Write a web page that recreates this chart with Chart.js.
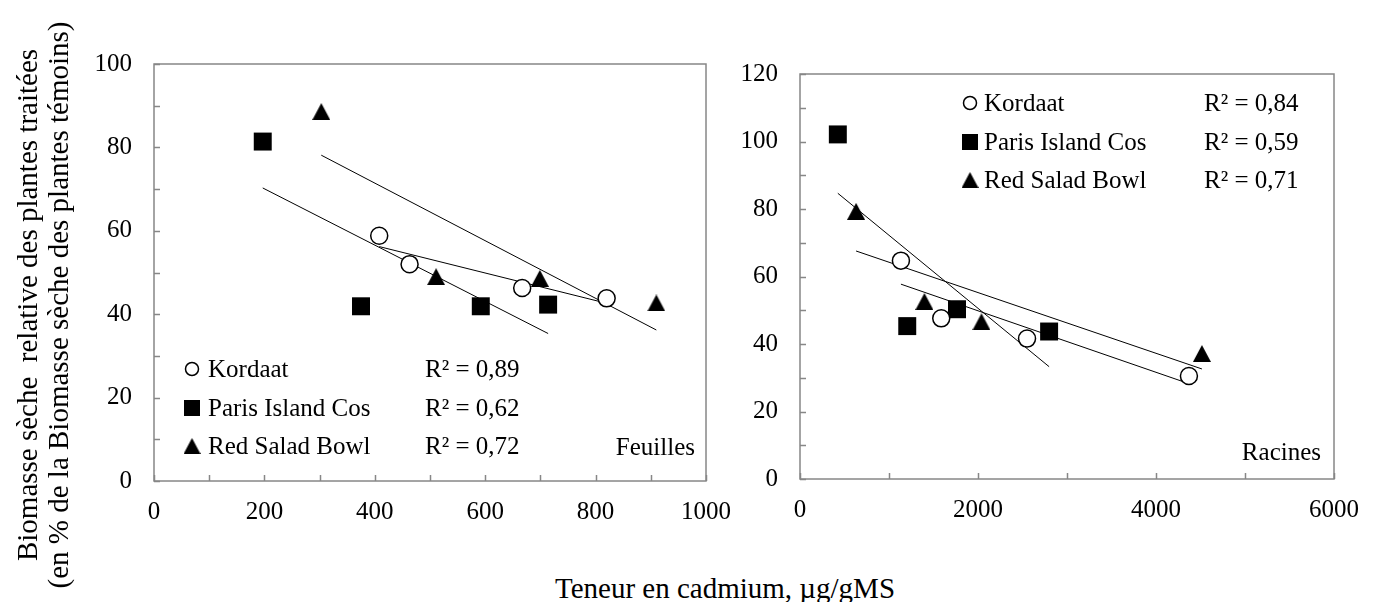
<!DOCTYPE html>
<html>
<head>
<meta charset="utf-8">
<script src="https://cdn.jsdelivr.net/npm/chart.js@4.4.1/dist/chart.umd.min.js"></script>
<style>
  body { margin: 0; background: #fff; }
  #wrap { position: relative; width: 1375px; height: 602px; overflow: hidden; font-family: 'Liberation Serif', 'Times New Roman', serif; color: #000; }
  canvas { position: absolute; top: 0; }
  #leaves { left: 0; }
  #roots { left: 720px; }
  #ytitle { position: absolute; left: -257px; top: 274px; width: 600px; height: 62px; line-height: 31px; font-size: 29px; text-align: center; white-space: pre; transform: rotate(-90deg); }
  #xtitle { position: absolute; left: 425px; top: 573px; width: 600px; line-height: 30px; font-size: 29px; text-align: center; }
</style>
</head>
<body>
<div id="wrap">
  <canvas id="leaves" width="747" height="531"></canvas>
  <canvas id="roots" width="655" height="529"></canvas>
  <div id="ytitle">Biomasse sèche  relative des plantes traitées
(en % de la Biomasse sèche des plantes témoins)</div>
  <div id="xtitle">Teneur en cadmium, µg/gMS</div>
</div>
<script>
// data (Cd in µg/gMS, biomass in % of control)
const varieties = ['Kordaat', 'Paris Island Cos', 'Red Salad Bowl'];

const leafCdKordaat = [408, 463, 667, 820];
const leafBioKordaat = [58.8, 52.0, 46.3, 43.8];
const leafCdParis = [197, 375, 592, 714];
const leafBioParis = [81.4, 41.9, 41.9, 42.3];
const leafCdRed = [303, 511, 699, 910];
const leafBioRed = [88.6, 49.0, 48.6, 42.7];
const leafR2 = ['R² = 0,89', 'R² = 0,62', 'R² = 0,72'];

const rootCdKordaat = [1134, 1587, 2551, 4370];
const rootBioKordaat = [64.7, 47.6, 41.6, 30.5];
const rootCdParis = [425, 1205, 1764, 2799];
const rootBioParis = [102.1, 45.3, 50.3, 43.7];
const rootCdRed = [630, 1398, 2039, 4516];
const rootBioRed = [79.3, 52.6, 46.6, 37.2];
const rootR2 = ['R² = 0,84', 'R² = 0,59', 'R² = 0,71'];

const FONT = "'Liberation Serif', 'Times New Roman', serif";

function pts(xs, ys) {
  return xs.map((x, i) => ({ x: x, y: ys[i] }));
}

// least squares line over the data range, like Excel's linear trendline
function trend(xs, ys) {
  const n = xs.length;
  const mx = xs.reduce((a, b) => a + b) / n;
  const my = ys.reduce((a, b) => a + b) / n;
  let sxy = 0, sxx = 0;
  xs.forEach((x, i) => { sxy += (x - mx) * (ys[i] - my); sxx += (x - mx) * (x - mx); });
  const b = sxy / sxx;
  const lo = Math.min(...xs), hi = Math.max(...xs);
  return [{ x: lo, y: my + b * (lo - mx) }, { x: hi, y: my + b * (hi - mx) }];
}

function triangle(w, h) {
  const c = document.createElement('canvas');
  c.width = w; c.height = h;
  const g = c.getContext('2d');
  g.fillStyle = '#000';
  g.beginPath();
  g.moveTo(w / 2, 0);
  g.lineTo(w, h);
  g.lineTo(0, h);
  g.closePath();
  g.fill();
  return c;
}
const triMark = triangle(18, 17);
const triLegend = triangle(17, 16);

// plot frame + inward tick marks
const frame = {
  id: 'frame',
  beforeDatasetsDraw(chart) {
    const { ctx, chartArea: a, scales: { x, y } } = chart;
    ctx.save();
    ctx.strokeStyle = '#878787';
    ctx.lineWidth = 1.5;
    ctx.beginPath();
    x.ticks.forEach(t => {
      const px = Math.round(x.getPixelForValue(t.value)) + 0.5;
      ctx.moveTo(px, a.bottom);
      ctx.lineTo(px, a.bottom - 6);
    });
    y.ticks.forEach(t => {
      const py = Math.round(y.getPixelForValue(t.value)) + 0.5;
      ctx.moveTo(a.left, py);
      ctx.lineTo(a.left + 6, py);
    });
    ctx.stroke();
    ctx.strokeRect(a.left, a.top, a.width, a.height);
    ctx.restore();
  }
};

// legend written inside the plot, with the R² values and panel name
const panelText = {
  id: 'panelText',
  afterDraw(chart, args, o) {
    const ctx = chart.ctx;
    ctx.save();
    ctx.font = '25px ' + FONT;
    ctx.fillStyle = '#000';
    ctx.textBaseline = 'alphabetic';
    varieties.forEach((name, i) => {
      const y = o.rowY[i];
      const cy = y - 8;
      if (i === 0) {
        ctx.beginPath();
        ctx.lineWidth = 1.5;
        ctx.strokeStyle = '#000';
        ctx.arc(o.markX, cy, 6.5, 0, Math.PI * 2);
        ctx.stroke();
      } else if (i === 1) {
        ctx.fillRect(o.markX - 8, cy - 8, 16, 16);
      } else {
        ctx.drawImage(triLegend, o.markX - 8.5, cy - 8);
      }
      ctx.textAlign = 'left';
      ctx.fillText(name, o.textX, y);
      ctx.fillText(o.r2[i], o.r2X, y);
    });
    ctx.textAlign = 'right';
    ctx.fillText(o.note, o.noteX, o.noteY);
    ctx.restore();
  }
};

function makeChart(id, series, xMax, xStep, xLabelStep, yMax, pad, text) {
  const datasets = [];
  series.forEach(s => {
    datasets.push({
      data: trend(s.x, s.y),
      showLine: true,
      borderColor: '#000',
      borderWidth: 1,
      pointRadius: 0,
      order: 2
    });
  });
  datasets.push({
    label: varieties[0], data: pts(series[0].x, series[0].y), order: 1,
    pointStyle: 'circle', pointRadius: 8.5, backgroundColor: '#fff', borderColor: '#000', borderWidth: 1.5
  });
  datasets.push({
    label: varieties[1], data: pts(series[1].x, series[1].y), order: 1,
    pointStyle: 'rect', pointRadius: 12.7, backgroundColor: '#000', borderColor: '#000', borderWidth: 0
  });
  datasets.push({
    label: varieties[2], data: pts(series[2].x, series[2].y), order: 1,
    pointStyle: triMark, pointRadius: 9, backgroundColor: '#000', borderWidth: 0
  });

  return new Chart(document.getElementById(id), {
    type: 'scatter',
    data: { datasets: datasets },
    options: {
      responsive: false,
      animation: false,
      layout: { padding: pad },
      plugins: { legend: { display: false }, tooltip: { enabled: false }, panelText: text },
      scales: {
        x: {
          type: 'linear', min: 0, max: xMax,
          grid: { display: false, drawTicks: false },
          border: { display: false },
          afterFit: s => { s.height = 50; },
          ticks: {
            stepSize: xStep, autoSkip: false, maxRotation: 0, padding: 16,
            color: '#000', font: { family: FONT, size: 25 },
            callback: v => (v % xLabelStep === 0 ? String(v) : '')
          }
        },
        y: {
          min: 0, max: yMax,
          grid: { display: false, drawTicks: false },
          border: { display: false },
          afterFit: s => { s.width = pad.yw; },
          ticks: {
            stepSize: 10, autoSkip: false, padding: 22,
            color: '#000', font: { family: FONT, size: 25 },
            callback: v => (v % 20 === 0 ? String(v) : '')
          }
        }
      }
    },
    plugins: [frame, panelText]
  });
}

makeChart('leaves', [
  { x: leafCdKordaat, y: leafBioKordaat },
  { x: leafCdParis, y: leafBioParis },
  { x: leafCdRed, y: leafBioRed }
], 1000, 100, 200, 100,
  { left: 84, right: 30, top: 64, bottom: 0, yw: 70 },
  { rowY: [377, 416, 454], markX: 192, textX: 208, r2X: 425, r2: leafR2, note: 'Feuilles', noteX: 695, noteY: 455 });

makeChart('roots', [
  { x: rootCdKordaat, y: rootBioKordaat },
  { x: rootCdParis, y: rootBioParis },
  { x: rootCdRed, y: rootBioRed }
], 6000, 1000, 2000, 120,
  { left: 20, right: 30, top: 74, bottom: 0, yw: 60 },
  { rowY: [111, 150, 188], markX: 970 - 720, textX: 984 - 720, r2X: 1204 - 720, r2: rootR2, note: 'Racines', noteX: 1321 - 720, noteY: 460 });
</script>
</body>
</html>
